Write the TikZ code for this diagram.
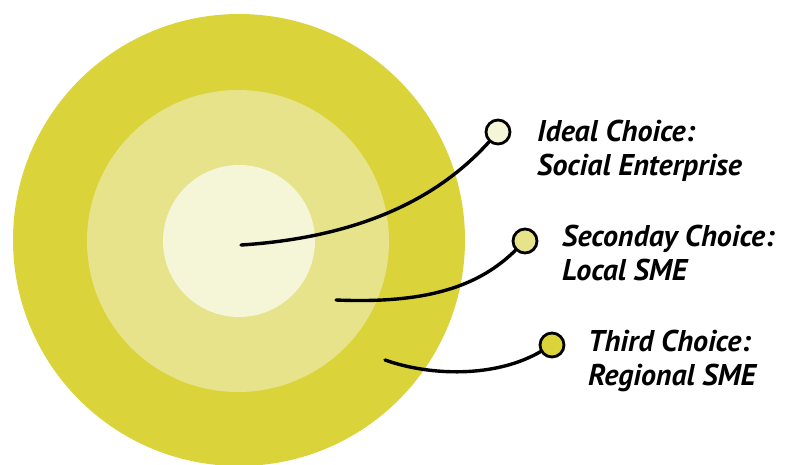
\documentclass[tikz,border=0pt]{standalone}
\usepackage{fontspec}
\setmainfont{PT Sans}
\definecolor{ringout}{HTML}{DAD43A}
\definecolor{ringmid}{HTML}{E7E38A}
\definecolor{ringin}{HTML}{F5F5D8}
\tikzset{
  marker/.style={circle, draw=black, line width=2.8pt, minimum size=24pt, inner sep=0pt},
  leader/.style={line width=3.4pt, line cap=round, draw=black},
  label/.style={anchor=base west, align=left, inner sep=0pt, font=\fontsize{30}{34}\selectfont\bfseries\itshape}
}
\begin{document}
\begin{tikzpicture}[x=1pt, y=-1pt]
\useasboundingbox (0,0) rectangle (787,464);
\begin{scope}
\clip (0,0) rectangle (787,464);
\fill[ringout] (239,240) circle (226);
\fill[ringmid] (238,241) circle (151);
\fill[ringin] (239,241) circle (76);
\end{scope}
\node[marker, fill=ringin] (m1) at (498,132) {};
\node[marker, fill=ringmid] (m2) at (525,241) {};
\node[marker, fill=ringout] (m3) at (552,345) {};
\coordinate (s1) at (241,245);
\coordinate (s2) at (336,300);
\coordinate (s3) at (385,360);
\draw[leader] (s1) .. controls (380,236) and (450,185) .. (m1);
\draw[leader] (s2) .. controls (430,304) and (480,285) .. (m2);
\draw[leader] (s3) .. controls (430,376) and (495,378) .. (m3);
\node[label] (t1) at (537,175) {Ideal Choice:\\Social Enterprise};
\node[label] (t2) at (562,280) {Seconday Choice:\\Local SME};
\node[label] (t3) at (588,385) {Third Choice:\\Regional SME};
\end{tikzpicture}
\end{document}
